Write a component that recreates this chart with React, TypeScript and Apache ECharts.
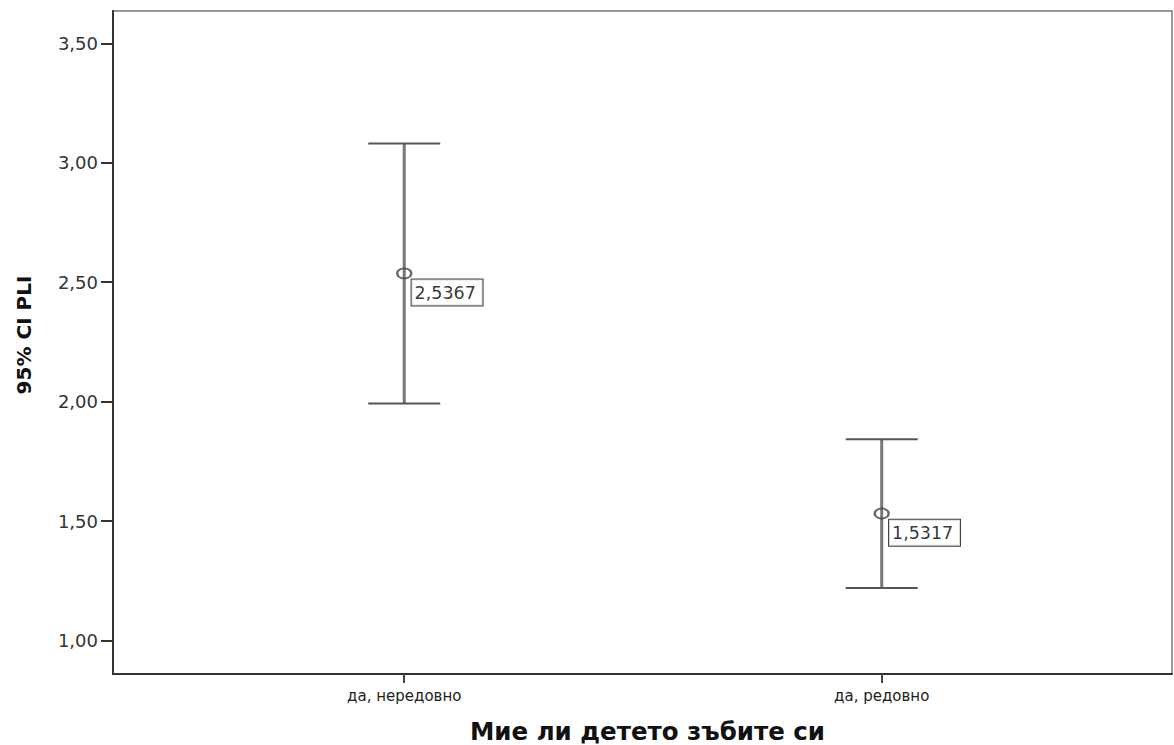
import React, { useEffect, useRef } from "react";
import * as echarts from "echarts";

const categories = ["да, нередовно", "да, редовно"];
const means = [2.5367, 1.5317];
const lowerCI = [1.992, 1.22];
const upperCI = [3.08, 1.843];
const yTicks = [1.0, 1.5, 2.0, 2.5, 3.0, 3.5];
const xTitle = "Мие ли детето зъбите си";
const yTitle = "95% CI PLI";

const FONT = "'DejaVu Sans', Verdana, sans-serif";
const fmt = (v: number, d: number) => v.toFixed(d).replace(".", ",");

export default function App() {
  const ref = useRef<HTMLDivElement>(null);
  useEffect(() => {
    if (!ref.current) return;
    const chart = echarts.init(ref.current, undefined, { renderer: "svg" });
    const errData = categories.map((_, i) => [i + 1, lowerCI[i], upperCI[i]]);
    const meanData = categories.map((_, i) => [i + 1, means[i]]);
    chart.setOption({
      animation: false,
      backgroundColor: "#ffffff",
      grid: {
        left: 113,
        top: 11,
        right: 2,
        bottom: 71,
        show: true,
        borderColor: "#777",
        borderWidth: 1.5,
        backgroundColor: "transparent",
      },
      xAxis: {
        type: "value",
        min: 0.39,
        max: 2.608,
        splitLine: { show: false },
        axisLine: { show: true, lineStyle: { color: "#333", width: 2 } },
        axisTick: {
          show: true,
          customValues: [1, 2],
          length: 9,
          lineStyle: { color: "#444", width: 2 },
        },
        axisLabel: {
          customValues: [1, 2],
          formatter: (v: number) => categories[Math.round(v) - 1] ?? "",
          fontFamily: FONT,
          fontSize: 15,
          color: "#222",
          margin: 14,
        },
      },
      yAxis: {
        type: "value",
        min: 0.86,
        max: 3.635,
        splitLine: { show: false },
        axisLine: { show: true, lineStyle: { color: "#333", width: 2 } },
        axisTick: {
          show: true,
          customValues: yTicks,
          length: 12,
          lineStyle: { color: "#333", width: 2 },
        },
        axisLabel: {
          customValues: yTicks,
          formatter: (v: number) => fmt(v, 2),
          fontFamily: FONT,
          fontSize: 18,
          color: "#333",
          margin: 15,
        },
      },
      graphic: [
        {
          type: "text",
          x: 23.5,
          y: 335,
          rotation: Math.PI / 2,
          style: {
            text: yTitle,
            font: `bold 20px ${FONT}`,
            fill: "#111",
            textAlign: "center",
            textVerticalAlign: "middle",
          },
        },
        {
          type: "text",
          x: 647.5,
          y: 731,
          style: {
            text: xTitle,
            font: `bold 24.5px ${FONT}`,
            fill: "#111",
            textAlign: "center",
            textVerticalAlign: "middle",
          },
        },
      ],
      series: [
        {
          type: "custom",
          data: errData,
          encode: { x: 0, y: [1, 2] },
          renderItem: (params: any, api: any) => {
            const x = api.value(0);
            const lo = api.coord([x, api.value(1)]);
            const hi = api.coord([x, api.value(2)]);
            const hw = 36;
            return {
              type: "group",
              children: [
                {
                  type: "line",
                  shape: { x1: lo[0], y1: lo[1], x2: hi[0], y2: hi[1] },
                  style: { stroke: "#777", lineWidth: 3 },
                },
                {
                  type: "line",
                  shape: { x1: hi[0] - hw, y1: hi[1], x2: hi[0] + hw, y2: hi[1] },
                  style: { stroke: "#555", lineWidth: 2 },
                },
                {
                  type: "line",
                  shape: { x1: lo[0] - hw, y1: lo[1], x2: lo[0] + hw, y2: lo[1] },
                  style: { stroke: "#555", lineWidth: 2 },
                },
              ],
            };
          },
          z: 2,
        },
        {
          type: "scatter",
          data: meanData,
          symbol: "circle",
          symbolSize: [14, 10],
          itemStyle: { color: "transparent", borderColor: "#444", borderWidth: 2 },
          label: {
            show: true,
            formatter: (p: any) => fmt(p.value[1], 4),
            position: [15.5, 12],
            fontFamily: FONT,
            fontSize: 17.5,
            color: "#000",
            backgroundColor: "#fff",
            borderColor: "#111",
            borderWidth: 1,
            padding: [4, 4, 3, 3],
            lineHeight: 19,
            width: 64,
            align: "left",
          },
          z: 3,
        },
      ],
    });
    return () => chart.dispose();
  }, []);
  return (
    <div
      ref={ref}
      style={{ position: "fixed", left: 0, top: 0, width: 1174, height: 745, background: "#fff" }}
    />
  );
}
